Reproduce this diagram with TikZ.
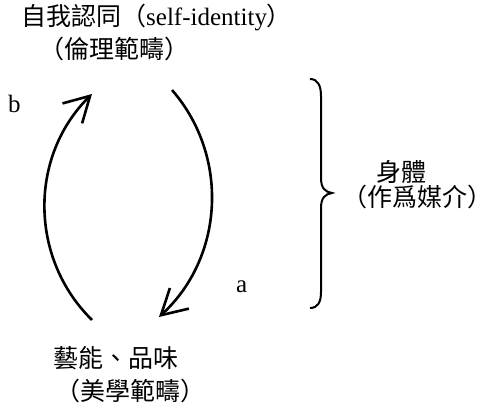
\documentclass[tikz,border=0pt]{standalone}
\usepackage{fontspec}
\setmainfont{Liberation Serif}
\newfontfamily\cjk{Noto Sans CJK TC}
\usetikzlibrary{arrows.meta}
\begin{document}
\begin{tikzpicture}[x=1pt,y=-1pt,
  lbl/.style={inner sep=0pt, font=\fontsize{25}{30}\selectfont},
  cyc/.style={line width=2.6pt, -{Straight Barb[length=25pt,width=28pt]}},
  brc/.style={line width=2pt}]
\useasboundingbox (0,0) rectangle (493,411);
% texts
\node[lbl, anchor=west] (self) at (21,18) {{\cjk 自我認同（}self-identity{\cjk ）}};
\node[lbl] (ethic) at (114,49) {\cjk （倫理範疇）};
\node[lbl] (art) at (116,358) {\cjk 藝能、品味};
\node[lbl] (aes) at (130.5,391) {\cjk （美學範疇）};
\node[lbl] (body) at (401,172) {\cjk 身體};
\node[lbl] (media) at (417,197) {\cjk （作爲媒介）};
\node[lbl, anchor=base west] (b) at (8,113) {b};
\node[lbl, anchor=base west] (a) at (236,293) {a};
% cycle arrows
\coordinate (bl) at (92,320);
\coordinate (tl) at (92,94);
\coordinate (tr) at (172,90);
\coordinate (br) at (159,317);
\draw[cyc] (bl) .. controls (29,258) and (29,156) .. (tl);
\draw[cyc] (tr) .. controls (229.7,156.4) and (223.9,257.5) .. (br);
% brace
\coordinate (bt) at (310,79);
\coordinate (bm) at (332,193);
\coordinate (bb) at (310,308);
\draw[brc] (bt) .. controls (318,79) and (321,86) .. (321,96) -- (321,178)
  .. controls (321,188) and (325,192) .. (bm)
  .. controls (325,194) and (321,198) .. (321,208) -- (321,292)
  .. controls (321,302) and (318,308) .. (bb);
\end{tikzpicture}
\end{document}
